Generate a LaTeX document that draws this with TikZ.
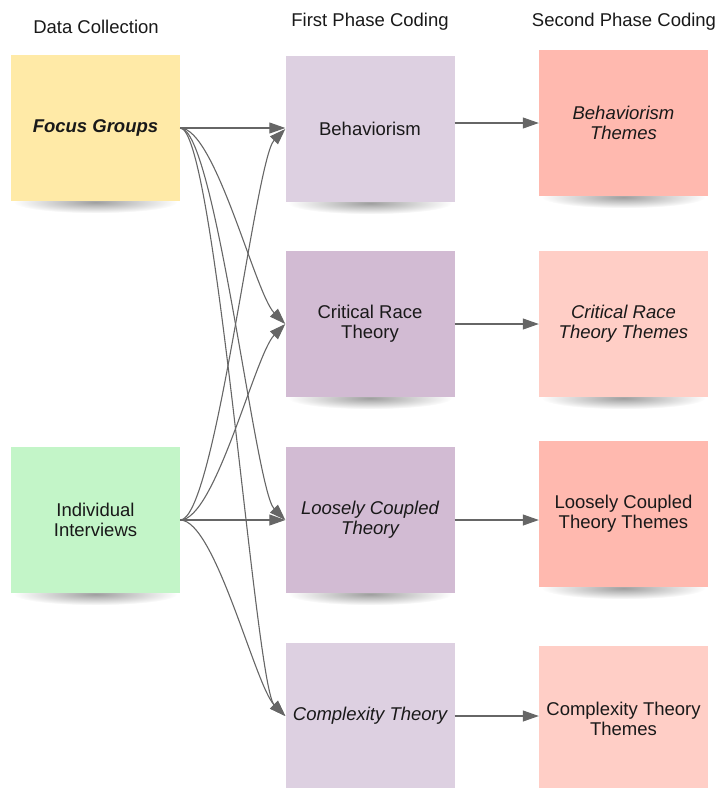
\documentclass[tikz,border=0pt]{standalone}
\usepackage{fontspec}
\setsansfont{Liberation Sans}
\usetikzlibrary{arrows.meta,backgrounds}

\definecolor{fgyellow}{HTML}{FFEAA7}
\definecolor{iigreen}{HTML}{C3F5C8}
\definecolor{lavlight}{HTML}{DDD0E1}
\definecolor{lavdark}{HTML}{D2BBD3}
\definecolor{salmon}{HTML}{FFB9AF}
\definecolor{salmonlight}{HTML}{FFCEC6}
\definecolor{linkgray}{HTML}{666666}

\begin{document}
\begin{tikzpicture}[x=1pt, y=-1pt,
    note/.style={minimum width=169pt, minimum height=146pt, inner sep=0pt, align=center,
                 text=black!90, font=\sffamily\fontsize{18.5}{20}\selectfont},
    itnote/.style={note, font=\sffamily\itshape\fontsize{18.5}{20}\selectfont},
    head/.style={text=black!90, font=\sffamily\fontsize{18.5}{20}\selectfont},
    link/.style={draw=linkgray, line width=1.1pt, -{Triangle[length=16pt,width=11pt]}}]
  \useasboundingbox (0,0) rectangle (721,788);
  % column heads
  \node[head] (hdata)   at (96,27)  {Data Collection};
  \node[head] (hfirst)  at (370,22) {First Phase Coding};
  \node[head] (hsecond) at (624,22) {Second Phase Coding};
  % data collection
  \node[note, fill=fgyellow] (fg) at (95.5,128) {\bfseries\itshape Focus Groups};
  \node[note, fill=iigreen]  (ii) at (95.5,520) {Individual\\Interviews};
  % first phase
  \node[note, fill=lavlight]  (beh) at (370,129) {Behaviorism};
  \node[note, fill=lavdark]   (crt) at (370,324) {Critical Race\\Theory};
  \node[itnote, fill=lavdark] (lct) at (370,520) {Loosely Coupled\\Theory};
  \node[itnote, fill=lavlight] (ct) at (370,716) {Complexity Theory};
  % second phase
  \node[itnote, fill=salmon]      (beht) at (623.5,123) {Behaviorism\\Themes};
  \node[itnote, fill=salmonlight] (crtt) at (623.5,324) {Critical Race\\Theory Themes};
  \node[note, fill=salmon]        (lctt) at (623.5,514) {Loosely Coupled\\Theory Themes};
  \node[note, fill=salmonlight]   (ctt)  at (623.5,719) {Complexity Theory\\Themes};
  % sticky-note shadows
  \begin{scope}[on background layer]
    \foreach \n in {fg,ii,beh,crt,lct,ct,beht,crtt,lctt,ctt}{
      \shade[inner color=black!38, outer color=white] ([yshift=-1pt]\n.south) ellipse [x radius=82pt, y radius=11pt]; }
  \end{scope}
  % coding links
  \draw[link] (fg.east) -- (beh.west |- fg.east);
  \foreach \t in {crt,lct,ct}{
    \draw[link] (fg.east) .. controls +(35,0) and +(-30,-30) .. (\t.west); }
  \foreach \t in {beh,crt}{
    \draw[link] (ii.east) .. controls +(35,0) and +(-30,30) .. (\t.west); }
  \draw[link] (ii.east) -- (lct.west);
  \draw[link] (ii.east) .. controls +(35,0) and +(-30,-30) .. (ct.west);
  % into second phase
  \draw[link] (beh.east |- beht.west) -- (beht.west);
  \draw[link] (crt.east) -- (crtt.west);
  \draw[link] (lct.east) -- (lct.east -| lctt.west);
  \draw[link] (ct.east) -- (ct.east -| ctt.west);
\end{tikzpicture}
\end{document}
